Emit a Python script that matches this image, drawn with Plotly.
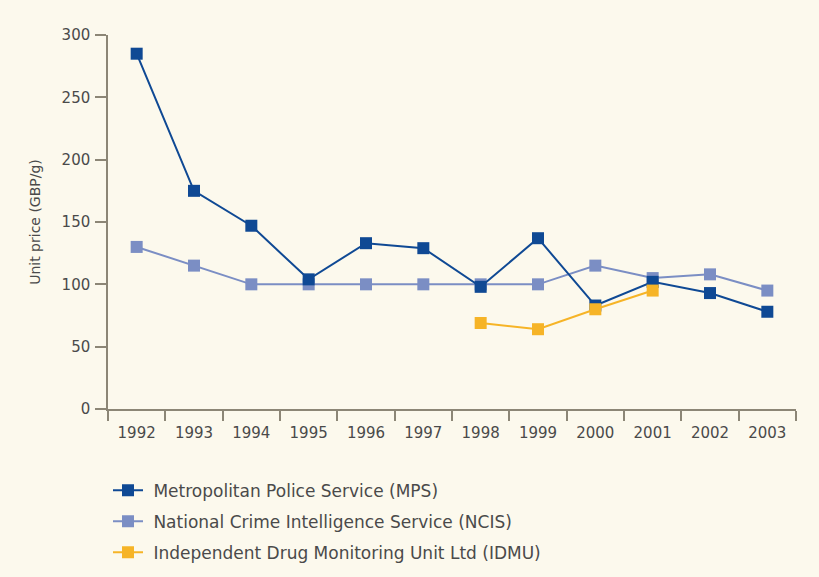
import plotly.graph_objects as go

years = ["1992", "1993", "1994", "1995", "1996", "1997", "1998", "1999", "2000", "2001", "2002", "2003"]
mps = [285, 175, 147, 104, 133, 129, 98, 137, 83, 102, 93, 78]
ncis = [130, 115, 100, 100, 100, 100, 100, 100, 115, 105, 108, 95]
idmu_years = ["1998", "1999", "2000", "2001"]
idmu = [69, 64, 80, 95]

font_family = "'DejaVu Sans', sans-serif"
axis_col = "#8c8676"
text_col = "#4a4a4a"
bg = "#fcf9ed"
nb = "\u00a0"

fig = go.Figure()
fig.add_trace(go.Scatter(x=years, y=ncis, mode="lines+markers",
                         name=nb + "National Crime Intelligence Service (NCIS)",
                         legendgroup="b", legendrank=2,
                         line=dict(color="#7b8ec4", width=2),
                         marker=dict(symbol="square", size=12, color="#7b8ec4")))
fig.add_trace(go.Scatter(x=years, y=mps, mode="lines+markers",
                         name=nb + "Metropolitan Police Service (MPS)",
                         legendgroup="a", legendrank=1,
                         line=dict(color="#0f4994", width=2),
                         marker=dict(symbol="square", size=12, color="#0f4994")))
fig.add_trace(go.Scatter(x=idmu_years, y=idmu, mode="lines+markers",
                         name=nb + "Independent Drug Monitoring Unit Ltd (IDMU)",
                         legendgroup="c", legendrank=3,
                         line=dict(color="#f6b427", width=2),
                         marker=dict(symbol="square", size=12, color="#f6b427")))

fig.update_layout(
    width=819, height=577,
    paper_bgcolor=bg, plot_bgcolor=bg,
    margin=dict(l=108, r=23, t=35, b=168, autoexpand=False),
    font=dict(family=font_family, size=15, color=text_col),
    showlegend=True,
    legend=dict(x=0.0, y=-0.17, xanchor="left", yanchor="top",
                traceorder="grouped", bgcolor="rgba(0,0,0,0)",
                font=dict(size=17, color=text_col), tracegroupgap=6,
                itemwidth=30),
    xaxis=dict(type="category", categoryorder="array", categoryarray=years,
               range=[-0.5, 11.5],
               showline=True, linecolor=axis_col, linewidth=1.5,
               ticks="outside", tickson="boundaries", ticklen=10, tickcolor=axis_col,
               tickwidth=1.5, showgrid=False, zeroline=False, automargin=False,
               ticklabelstandoff=9,
               tickfont=dict(size=15, color=text_col)),
    yaxis=dict(range=[0, 300], tickvals=[0, 50, 100, 150, 200, 250, 300],
               showline=True, linecolor=axis_col, linewidth=1.5,
               ticks="outside", ticklen=11, tickcolor=axis_col, tickwidth=1.5,
               showgrid=False, zeroline=False, automargin=False,
               ticklabelstandoff=2,
               title=dict(text="Unit price (GBP/g)", font=dict(size=14, color=text_col), standoff=18),
               tickfont=dict(size=15, color=text_col)),
)

fig.write_html("out.html", config={"displayModeBar": False},
               post_script="document.body.style.margin='0';document.body.style.background='%s';" % bg)
